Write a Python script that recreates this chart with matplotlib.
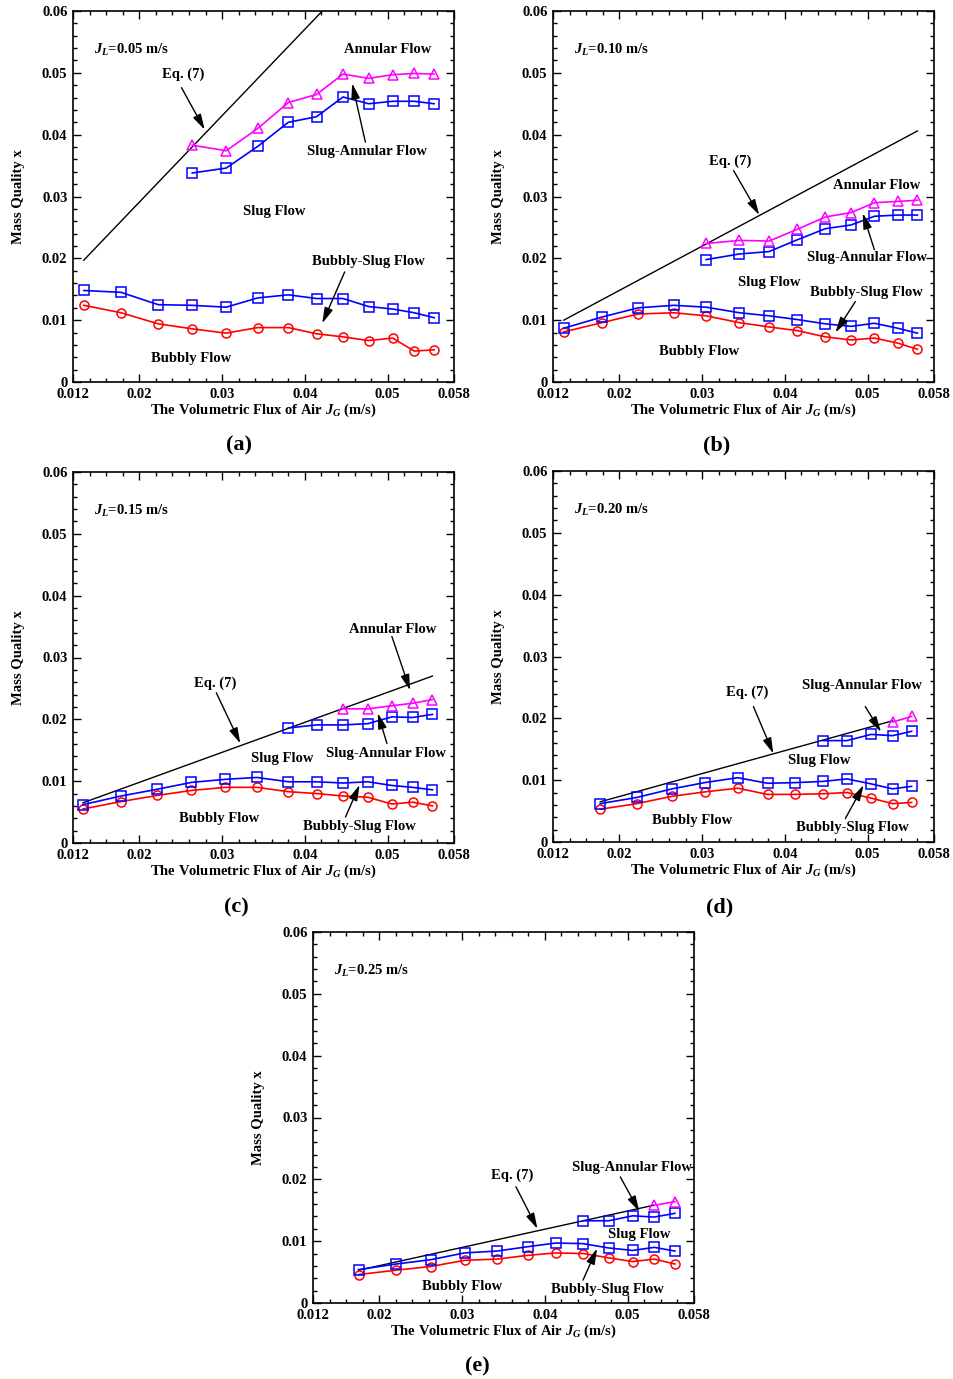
import numpy as np
import matplotlib
matplotlib.use('Agg')
import matplotlib.pyplot as plt
from matplotlib.ticker import FixedLocator, MultipleLocator

plt.rcParams['font.family'] = ['Liberation Serif', 'DejaVu Serif']
plt.rcParams['font.weight'] = 'bold'
plt.rcParams['axes.labelweight'] = 'bold'
plt.rcParams['font.size'] = 10.5
plt.rcParams['mathtext.fontset'] = 'custom'
plt.rcParams['mathtext.it'] = 'Liberation Serif:italic:bold'
plt.rcParams['mathtext.rm'] = 'Liberation Serif:bold'

# ---- data ----
# (a) J_L = 0.05 m/s
jg_a = [0.0133, 0.0178, 0.0223, 0.0264, 0.0305, 0.0343, 0.0380, 0.0414, 0.0446, 0.0477, 0.0506, 0.0532, 0.0556]
red_a = [0.0124, 0.0112, 0.0094, 0.0086, 0.0079, 0.0088, 0.0088, 0.0078, 0.0073, 0.0067, 0.0071, 0.0050, 0.0052]
blue_lo_a = [0.0148, 0.0145, 0.0125, 0.0124, 0.0121, 0.0136, 0.0141, 0.0135, 0.0135, 0.0122, 0.0118, 0.0112, 0.0104]
blue_hi_a = [0.0338, 0.0346, 0.0381, 0.0420, 0.0429, 0.0461, 0.0450, 0.0454, 0.0454, 0.0450]
mag_a = [0.0383, 0.0374, 0.0410, 0.0452, 0.0465, 0.0498, 0.0491, 0.0497, 0.0499, 0.0498]
eq_x_a = [0.0133, 0.0421]
eq_y_a = [0.0197, 0.0600]

# (b) J_L = 0.10 m/s
jg_b = [0.0133, 0.0179, 0.0223, 0.0266, 0.0305, 0.0345, 0.0381, 0.0415, 0.0449, 0.0480, 0.0508, 0.0536, 0.0560]
red_b = [0.0081, 0.0096, 0.0110, 0.0112, 0.0107, 0.0096, 0.0089, 0.0083, 0.0073, 0.0068, 0.0071, 0.0063, 0.0053]
blue_lo_b = [0.0087, 0.0105, 0.0120, 0.0124, 0.0121, 0.0112, 0.0107, 0.0101, 0.0094, 0.0090, 0.0095, 0.0087, 0.0079]
blue_hi_b = [0.0198, 0.0207, 0.0211, 0.0230, 0.0248, 0.0254, 0.0268, 0.0270, 0.0270]
mag_b = [0.0224, 0.0229, 0.0228, 0.0247, 0.0267, 0.0274, 0.0290, 0.0292, 0.0294]
eq_x_b = [0.0133, 0.0560]
eq_y_b = [0.0100, 0.0406]

# (c) J_L = 0.15 m/s
jg_c = [0.0132, 0.0178, 0.0222, 0.0263, 0.0304, 0.0342, 0.0380, 0.0414, 0.0446, 0.0476, 0.0505, 0.0530, 0.0554]
red_c = [0.0055, 0.0067, 0.0077, 0.0085, 0.0090, 0.0090, 0.0083, 0.0080, 0.0076, 0.0074, 0.0063, 0.0066, 0.0060]
blue_lo_c = [0.0062, 0.0076, 0.0087, 0.0098, 0.0103, 0.0106, 0.0099, 0.0099, 0.0097, 0.0099, 0.0093, 0.0090, 0.0086]
blue_hi_c = [0.0186, 0.0191, 0.0191, 0.0193, 0.0204, 0.0203, 0.0208]
mag_c = [0.0217, 0.0217, 0.0222, 0.0226, 0.0232]
eq_x_c = [0.0132, 0.0554]
eq_y_c = [0.0065, 0.0270]

# (d) J_L = 0.20 m/s
jg_d = [0.0177, 0.0221, 0.0264, 0.0303, 0.0343, 0.0379, 0.0412, 0.0446, 0.0475, 0.0504, 0.0530, 0.0553]
red_d = [0.0053, 0.0062, 0.0074, 0.0081, 0.0087, 0.0077, 0.0077, 0.0078, 0.0080, 0.0071, 0.0062, 0.0064]
blue_lo_d = [0.0062, 0.0072, 0.0086, 0.0096, 0.0104, 0.0095, 0.0096, 0.0098, 0.0102, 0.0094, 0.0086, 0.0090]
blue_hi_d = [0.0164, 0.0164, 0.0174, 0.0172, 0.0179]
mag_d = [0.0194, 0.0203]
eq_x_d = [0.0177, 0.0530]
eq_y_d = [0.0065, 0.0196]

# (e) J_L = 0.25 m/s
jg_e = [0.0175, 0.0220, 0.0262, 0.0303, 0.0342, 0.0379, 0.0413, 0.0446, 0.0477, 0.0506, 0.0532, 0.0557]
red_e = [0.0046, 0.0053, 0.0059, 0.0069, 0.0071, 0.0077, 0.0081, 0.0080, 0.0073, 0.0067, 0.0071, 0.0063]
blue_lo_e = [0.0054, 0.0063, 0.0070, 0.0081, 0.0084, 0.0091, 0.0097, 0.0096, 0.0089, 0.0085, 0.0090, 0.0084]
blue_hi_e = [0.0133, 0.0133, 0.0141, 0.0139, 0.0145]
mag_e = [0.0158, 0.0164]
eq_x_e = [0.0175, 0.0531]
eq_y_e = [0.0053, 0.0158]

jl_labels = ['0.05', '0.10', '0.15', '0.20', '0.25']
panel_names = ['(a)', '(b)', '(c)', '(d)', '(e)']
xtick_vals = [0.012, 0.02, 0.03, 0.04, 0.05, 0.058]
xtick_labels = ['0.012', '0.02', '0.03', '0.04', '0.05', '0.058']
ytick_vals = [0, 0.01, 0.02, 0.03, 0.04, 0.05, 0.06]
ytick_labels = ['0', '0.01', '0.02', '0.03', '0.04', '0.05', '0.06']

panels = [
    (jg_a, red_a, blue_lo_a, blue_hi_a, mag_a, eq_x_a, eq_y_a),
    (jg_b, red_b, blue_lo_b, blue_hi_b, mag_b, eq_x_b, eq_y_b),
    (jg_c, red_c, blue_lo_c, blue_hi_c, mag_c, eq_x_c, eq_y_c),
    (jg_d, red_d, blue_lo_d, blue_hi_d, mag_d, eq_x_d, eq_y_d),
    (jg_e, red_e, blue_lo_e, blue_hi_e, mag_e, eq_x_e, eq_y_e),
]

# region labels: (text, text pos, arrow tail, arrow head)
notes = [
    [('Annular Flow', (0.0500, 0.0537), None, None),
     ('Eq. (7)', (0.0253, 0.0498), (0.0251, 0.0476), (0.0279, 0.0408)),
     ('Slug-Annular Flow', (0.0475, 0.0373), (0.0473, 0.0388), (0.0457, 0.0483)),
     ('Slug Flow', (0.0363, 0.0276), None, None),
     ('Bubbly-Slug Flow', (0.0477, 0.0195), (0.0448, 0.0178), (0.0421, 0.0095)),
     ('Bubbly Flow', (0.0263, 0.0038), None, None)],
    [('Eq. (7)', (0.0334, 0.0357), (0.0338, 0.0342), (0.0369, 0.0270)),
     ('Annular Flow', (0.0511, 0.0317), None, None),
     ('Slug-Annular Flow', (0.0499, 0.0201), (0.0508, 0.0214), (0.0494, 0.0273)),
     ('Slug Flow', (0.0381, 0.0161), None, None),
     ('Bubbly-Slug Flow', (0.0499, 0.0144), (0.0485, 0.0130), (0.0461, 0.0080)),
     ('Bubbly Flow', (0.0296, 0.0050), None, None)],
    [('Annular Flow', (0.0506, 0.0346), (0.0505, 0.0334), (0.0527, 0.0247)),
     ('Eq. (7)', (0.0292, 0.0259), (0.0293, 0.0243), (0.0322, 0.0161)),
     ('Slug Flow', (0.0373, 0.0136), None, None),
     ('Slug-Annular Flow', (0.0498, 0.0145), (0.0499, 0.0161), (0.0488, 0.0210)),
     ('Bubbly Flow', (0.0297, 0.0039), None, None),
     ('Bubbly-Slug Flow', (0.0466, 0.0027), (0.0449, 0.0042), (0.0466, 0.0094))],
    [('Eq. (7)', (0.0355, 0.0242), (0.0362, 0.0219), (0.0386, 0.0143)),
     ('Slug-Annular Flow', (0.0493, 0.0253), (0.0497, 0.0219), (0.0516, 0.0178)),
     ('Slug Flow', (0.0442, 0.0131), None, None),
     ('Bubbly Flow', (0.0288, 0.0035), None, None),
     ('Bubbly-Slug Flow', (0.0481, 0.0024), (0.0473, 0.0038), (0.0495, 0.0092))],
    [('Eq. (7)', (0.0360, 0.0207), (0.0365, 0.0188), (0.0391, 0.0120)),
     ('Slug-Annular Flow', (0.0505, 0.0219), (0.0491, 0.0204), (0.0514, 0.0148)),
     ('Slug Flow', (0.0514, 0.0111), None, None),
     ('Bubbly Flow', (0.0300, 0.0027), None, None),
     ('Bubbly-Slug Flow', (0.0476, 0.0022), (0.0446, 0.0037), (0.0463, 0.0088))],
]

# axes placement in pixels (left, top) on a 954 x 1379 canvas
W, H = 954, 1379
ax_px = [(73, 11), (553, 11), (73, 472), (553, 471), (313, 932)]
ax_w, ax_h = 381, 371
label_px = [(239, 445), (717, 445), (236, 907), (720, 907), (477, 1366)]

fig = plt.figure(figsize=(W / 100, H / 100), dpi=100)

for i, (jg, red, blo, bhi, mag, eqx, eqy) in enumerate(panels):
    l, t = ax_px[i]
    ax = fig.add_axes([l / W, (H - t - ax_h) / H, ax_w / W, ax_h / H])
    n = len(jg)
    ax.plot(eqx, eqy, color='black', lw=1.0, zorder=2)
    ax.plot(jg, red, color='red', lw=1.2, marker='o', ms=6.5, mfc='none', mew=1.1, zorder=3)
    ax.plot(jg, blo, color='blue', lw=1.2, marker='s', ms=6.5, mfc='none', mew=1.1, zorder=3)
    ax.plot(jg[n - len(bhi):], bhi, color='blue', lw=1.2, marker='s', ms=6.5, mfc='none', mew=1.1, zorder=3)
    ax.plot(jg[n - len(mag):], mag, color='magenta', lw=1.2, marker='^', ms=7, mfc='none', mew=1.1, zorder=3)

    ax.set_xlim(0.012, 0.058)
    ax.set_ylim(0, 0.06)
    ax.xaxis.set_major_locator(FixedLocator(xtick_vals))
    ax.set_xticklabels(xtick_labels)
    ax.xaxis.set_minor_locator(MultipleLocator(0.002))
    ax.yaxis.set_major_locator(FixedLocator(ytick_vals))
    ax.set_yticklabels(ytick_labels)
    ax.yaxis.set_minor_locator(MultipleLocator(0.002))
    ax.tick_params(which='both', direction='in', top=True, right=True, width=1.0)
    ax.tick_params(which='major', length=6, pad=4)
    ax.tick_params(which='minor', length=3)
    for sp in ax.spines.values():
        sp.set_linewidth(1.2)

    ax.set_xlabel('The Volumetric Flux of Air $J_G$ (m/s)', labelpad=1)
    ax.set_ylabel('Mass Quality x', labelpad=12)

    ax.text(0.01455, 0.0537, '$J_L$=' + jl_labels[i] + ' m/s', ha='left', va='center')
    for txt, pos, tail, head in notes[i]:
        ax.text(pos[0], pos[1], txt, ha='center', va='center')
        if tail is not None:
            ax.annotate('', xy=head, xytext=tail,
                        arrowprops=dict(arrowstyle='-|>,head_length=0.9,head_width=0.25',
                                        color='black', lw=1.0, shrinkA=0, shrinkB=0))

    lx, ly = label_px[i]
    fig.text(lx / W, 1 - ly / H, panel_names[i], ha='center', va='center', fontsize=16, weight='bold')

fig.savefig('out.png', dpi=100)
